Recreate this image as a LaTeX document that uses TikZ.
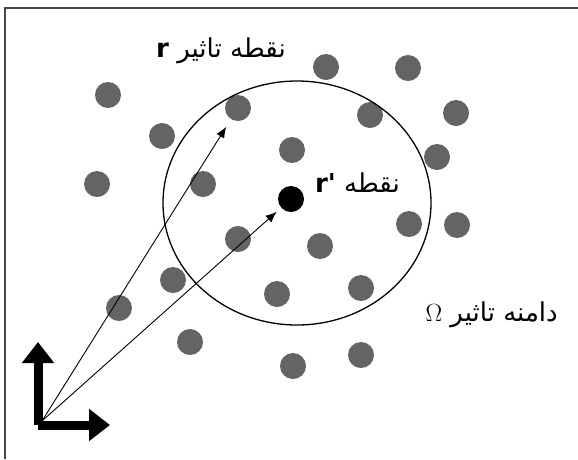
\documentclass[tikz,border=0pt]{standalone}
\usepackage{fontspec}
\usepackage{tikz}
\usetikzlibrary{arrows.meta}
\usepackage{xcolor}
\TeXXeTstate=1
\newfontfamily\arabicfont[Script=Arabic]{DejaVu Sans}
\definecolor{pointgray}{RGB}{100,100,100}
\definecolor{framegray}{RGB}{70,70,70}

\tikzset{
    point/.style={circle, fill=pointgray, inner sep=0pt, minimum size=26pt},
    tag/.style={font=\arabicfont\fontsize{26}{30}\selectfont, inner sep=0pt, anchor=base east}
}

\begin{document}
\begin{tikzpicture}[x=1pt, y=-1pt]
    \useasboundingbox (0,0) rectangle (578,459);

    % Frame (top and left edges only)
    \draw[framegray, line width=2pt] (5,459) -- (5,8) -- (578,8);

    % Scattered points
    \node[point] (p1) at (108,95) {};
    \node[point] (p2) at (326,67) {};
    \node[point] (p3) at (408,68) {};
    \node[point] (p4) at (238,108) {};
    \node[point] (p5) at (162,136) {};
    \node[point] (p6) at (370,115) {};
    \node[point] (p7) at (456,113) {};
    \node[point] (p8) at (292,150) {};
    \node[point] (p9) at (437,157) {};
    \node[point] (p10) at (97,184) {};
    \node[point] (p11) at (203,184) {};
    \node[point] (p12) at (238,239) {};
    \node[point] (p13) at (320,246) {};
    \node[point] (p14) at (409,224) {};
    \node[point] (p15) at (457,225) {};
    \node[point] (p16) at (173,280) {};
    \node[point] (p17) at (277,294) {};
    \node[point] (p18) at (361,288) {};
    \node[point] (p19) at (119,308) {};
    \node[point] (p20) at (190,342) {};
    \node[point] (p21) at (293,366) {};
    \node[point] (p22) at (361,355) {};

    % Centre point r'
    \node[point, fill=black] (rp) at (291,199) {};

    % Domain of influence
    \draw[line width=1.3pt] (297,203) ellipse (134 and 122);

    % Axes
    \coordinate (o) at (38,425);
    \coordinate (ox) at (110,425);
    \coordinate (oy) at (38,342);
    \draw[line width=9pt, -{Triangle[length=21pt, width=31pt]}] (o) -- (ox);
    \draw[line width=9pt, -{Triangle[length=21pt, width=31pt]}] (o) -- (oy);

    % Position vectors
    \coordinate (src) at (42,421);
    \draw[line width=0.9pt, -{Latex[length=11pt, width=9pt]}, shorten >=9pt] (src) -- (p4);
    \draw[line width=0.9pt, -{Latex[length=11pt, width=9pt]}, shorten >=6pt] (src) -- (rp);

    % Labels
    \node[tag] (lr) at (286,57) {\bfseries r\mdseries\ \beginR نقطه تاثیر\endR};
    \node[tag] (lrp) at (400,192) {\bfseries r'\mdseries\ \beginR نقطه\endR};
    \node[tag] (lom) at (558,321) {{\rmfamily\fontsize{28}{30}\selectfont$\Omega$}\ \beginR دامنه تاثیر\endR};
\end{tikzpicture}
\end{document}
